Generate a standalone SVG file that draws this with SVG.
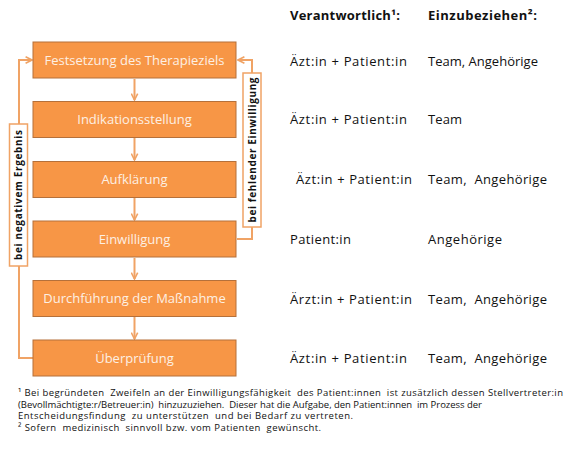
<svg xmlns="http://www.w3.org/2000/svg" width="573" height="450" viewBox="0 0 573 450">
<style>
.box{fill:#F79646;stroke:#B5703A;stroke-width:1}
.bt{font-family:"Open Sans","DejaVu Sans",sans-serif;font-size:13px;fill:#FDF0E4;text-anchor:middle}
.con{fill:none;stroke:#F0A365;stroke-width:2}
.lbl{fill:#fff;stroke:#F0A365;stroke-width:1.5}
.lt{font-family:"Open Sans","DejaVu Sans",sans-serif;font-size:10px;font-weight:bold;fill:#111;text-anchor:middle}
.rt{font-family:"Open Sans","DejaVu Sans",sans-serif;font-size:13px;fill:#111;white-space:pre}
.hd{font-family:"Open Sans","DejaVu Sans",sans-serif;font-size:13px;font-weight:bold;fill:#111}
.fn{font-family:"Open Sans","DejaVu Sans",sans-serif;font-size:9.5px;fill:#111;white-space:pre}
</style>
<defs>
<marker id="ah" viewBox="0 0 10 10" refX="9" refY="5" markerWidth="4" markerHeight="4" orient="auto" markerUnits="strokeWidth">
<path d="M1,1 L9,5 L1,9" fill="none" stroke="#F0A365" stroke-width="2"/>
</marker>
</defs>
<g id="connectors">
<line class="con" x1="134.5" y1="79" x2="134.5" y2="100" marker-end="url(#ah)"/>
<line class="con" x1="134.5" y1="138" x2="134.5" y2="160" marker-end="url(#ah)"/>
<line class="con" x1="134.5" y1="198" x2="134.5" y2="220" marker-end="url(#ah)"/>
<line class="con" x1="134.5" y1="258" x2="134.5" y2="279" marker-end="url(#ah)"/>
<line class="con" x1="134.5" y1="317" x2="134.5" y2="339" marker-end="url(#ah)"/>
<polyline class="con" points="33,358 19,358 19,60 32,60" marker-end="url(#ah)"/>
<polyline class="con" points="237,239 252,239 252,60 238,60" marker-end="url(#ah)"/>
</g>
<g id="label-negativ">
<rect class="lbl" x="9.5" y="124" width="18" height="142"/>
<text class="lt" transform="translate(22,195) rotate(-90)" textLength="130">bei negativem Ergebnis</text>
</g>
<g id="label-fehlend">
<rect class="lbl" x="243" y="73" width="18" height="154"/>
<text class="lt" transform="translate(255.5,150) rotate(-90)" textLength="145">bei fehlender Einwilligung</text>
</g>
<g id="n1"><rect class="box" x="33" y="42" width="203" height="36"/><text class="bt" x="134.5" y="64.5">Festsetzung des Therapieziels</text></g>
<g id="n2"><rect class="box" x="33" y="101.5" width="203" height="36"/><text class="bt" x="134.5" y="124">Indikationsstellung</text></g>
<g id="n3"><rect class="box" x="33" y="161.5" width="203" height="36"/><text class="bt" x="134.5" y="184">Aufklärung</text></g>
<g id="n4"><rect class="box" x="33" y="221" width="203" height="36"/><text class="bt" x="134.5" y="243.5">Einwilligung</text></g>
<g id="n5"><rect class="box" x="33" y="280.5" width="203" height="36"/><text class="bt" x="134.5" y="303">Durchführung der Maßnahme</text></g>
<g id="n6"><rect class="box" x="33" y="340" width="203" height="36"/><text class="bt" x="134.5" y="362.5">Überprüfung</text></g>
<g id="table">
<text class="hd" x="290" y="20" textLength="110">Verantwortlich¹:</text>
<text class="hd" x="428" y="20" textLength="109">Einzubeziehen²:</text>
<text class="rt" x="290" y="65.5" textLength="117">Äzt:in + Patient:in</text>
<text class="rt" x="428" y="65.5" textLength="110">Team, Angehörige</text>
<text class="rt" x="290" y="124" textLength="117">Äzt:in + Patient:in</text>
<text class="rt" x="428" y="124" textLength="34">Team</text>
<text class="rt" x="296" y="184" textLength="116">Äzt:in + Patient:in</text>
<text class="rt" x="428" y="184" textLength="119">Team,  Angehörige</text>
<text class="rt" x="290" y="243.5" textLength="61">Patient:in</text>
<text class="rt" x="428" y="243.5" textLength="74">Angehörige</text>
<text class="rt" x="290" y="303.5" textLength="122">Ärzt:in + Patient:in</text>
<text class="rt" x="428" y="303.5" textLength="119">Team,  Angehörige</text>
<text class="rt" x="290" y="363" textLength="117">Äzt:in + Patient:in</text>
<text class="rt" x="428" y="363" textLength="119">Team,  Angehörige</text>
</g>
<g id="footnotes">
<text class="fn" x="18" y="396" textLength="545">¹ Bei begründeten  Zweifeln an der Einwilligungsfähigkeit  des Patient:innen  ist zusätzlich dessen Stellvertreter:in</text>
<text class="fn" x="18" y="407.5" textLength="464">(Bevollmächtigte:r/Betreuer:in)  hinzuzuziehen.  Dieser hat die Aufgabe, den Patient:innen  im Prozess der</text>
<text class="fn" x="18" y="419" textLength="335">Entscheidungsfindung  zu unterstützen  und bei Bedarf zu vertreten.</text>
<text class="fn" x="18" y="430.5" textLength="303">² Sofern  medizinisch  sinnvoll bzw. vom Patienten  gewünscht.</text>
</g>
</svg>
